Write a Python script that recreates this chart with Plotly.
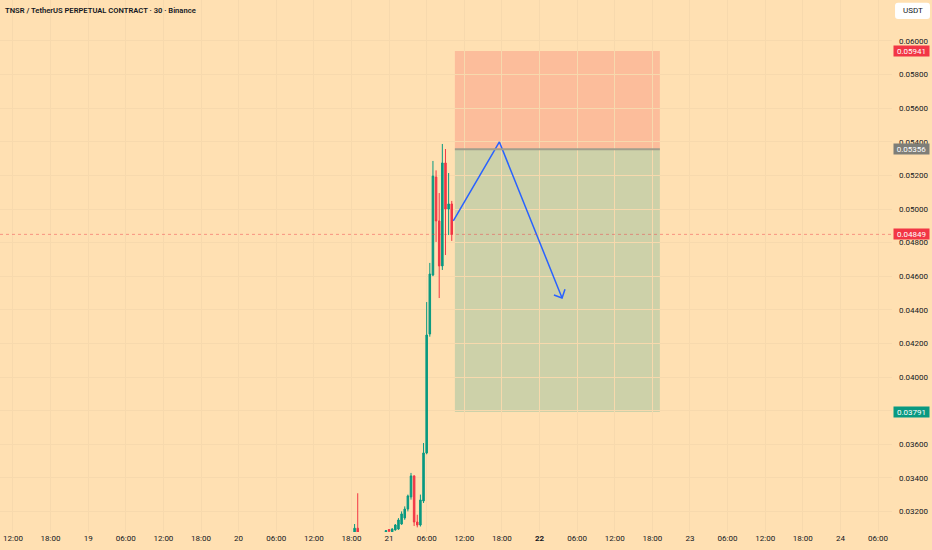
import plotly.graph_objects as go

# ---- candle data (30 min) ----
times = [
    "2024-04-20 18:30", "2024-04-20 19:00", "2024-04-20 23:30",
    "2024-04-21 00:00", "2024-04-21 00:30", "2024-04-21 01:00", "2024-04-21 01:30",
    "2024-04-21 02:00", "2024-04-21 02:30", "2024-04-21 03:00", "2024-04-21 03:30",
    "2024-04-21 04:00", "2024-04-21 04:30", "2024-04-21 05:00", "2024-04-21 05:30",
    "2024-04-21 06:00", "2024-04-21 06:30", "2024-04-21 07:00", "2024-04-21 07:30",
    "2024-04-21 08:00", "2024-04-21 08:30", "2024-04-21 09:00", "2024-04-21 09:30",
    "2024-04-21 10:00",
]
opens = [0.03060, 0.03100, 0.03078, 0.03092, 0.03078, 0.03090, 0.03095, 0.03125,
         0.03161, 0.03214, 0.03286, 0.03411, 0.03137, 0.03119, 0.03262, 0.03548,
         0.04256, 0.04607, 0.05190, 0.04929, 0.04661, 0.05274, 0.05000, 0.05030]
highs = [0.03125, 0.03308, 0.03088, 0.03095, 0.03100, 0.03125, 0.03160, 0.03200,
         0.03230, 0.03300, 0.03429, 0.03415, 0.03180, 0.03300, 0.03607, 0.04446,
         0.04679, 0.05286, 0.05230, 0.05095, 0.05387, 0.05357, 0.05214, 0.05048]
lows = [0.03040, 0.03040, 0.03070, 0.03070, 0.03070, 0.03085, 0.03090, 0.03120,
        0.03150, 0.03200, 0.03270, 0.03113, 0.03105, 0.03110, 0.03250, 0.03540,
        0.04240, 0.04600, 0.04804, 0.04470, 0.04637, 0.04726, 0.04845, 0.04810]
closes = [0.03100, 0.03060, 0.03085, 0.03082, 0.03095, 0.03119, 0.03149, 0.03185,
          0.03214, 0.03292, 0.03411, 0.03137, 0.03119, 0.03268, 0.03548, 0.04250,
          0.04613, 0.05196, 0.04929, 0.04661, 0.05274, 0.05000, 0.05030, 0.04849]

# ---- position tool (short) ----
pos_start = "2024-04-21 10:30"
pos_end = "2024-04-22 19:12"
stop_price = 0.05941
entry_price = 0.05356
target_price = 0.03791
last_price = 0.04849

# ---- hand-drawn path ----
draw_times = ["2024-04-21 10:15", "2024-04-21 17:36", "2024-04-22 03:36"]
draw_prices = [0.04929, 0.05399, 0.04470]
arrow_times = ["2024-04-22 02:18", "2024-04-22 03:36", "2024-04-22 04:04"]
arrow_prices = [0.04488, 0.04470, 0.04522]

# ---- axes ----
x_tick_times = [
    "2024-04-18 12:00", "2024-04-18 18:00", "2024-04-19 00:00", "2024-04-19 06:00",
    "2024-04-19 12:00", "2024-04-19 18:00", "2024-04-20 00:00", "2024-04-20 06:00",
    "2024-04-20 12:00", "2024-04-20 18:00", "2024-04-21 00:00", "2024-04-21 06:00",
    "2024-04-21 12:00", "2024-04-21 18:00", "2024-04-22 00:00", "2024-04-22 06:00",
    "2024-04-22 12:00", "2024-04-22 18:00", "2024-04-23 00:00", "2024-04-23 06:00",
    "2024-04-23 12:00", "2024-04-23 18:00", "2024-04-24 00:00", "2024-04-24 06:00",
]
x_tick_labels = [
    "12:00", "18:00", "19", "06:00", "12:00", "18:00", "20", "06:00", "12:00",
    "18:00", "21", "06:00", "12:00", "18:00", "<b>22</b>", "06:00", "12:00",
    "18:00", "23", "06:00", "12:00", "18:00", "24", "06:00",
]
y_tick_values = [0.032, 0.034, 0.036, 0.038, 0.040, 0.042, 0.044, 0.046,
                 0.048, 0.050, 0.052, 0.054, 0.056, 0.058, 0.060]
y_tick_labels = [f"{v:.5f}" for v in y_tick_values]

BG = "#FFE0B2"
GRID = "#F7D9AD"
UP = "#089981"
DOWN = "#F23645"
FONT = "Roboto"

fig = go.Figure()

fig.add_trace(go.Candlestick(
    x=times, open=opens, high=highs, low=lows, close=closes,
    increasing=dict(line=dict(color=UP, width=1), fillcolor=UP),
    decreasing=dict(line=dict(color=DOWN, width=1), fillcolor=DOWN),
    whiskerwidth=0, showlegend=False, hoverinfo="skip",
))

fig.add_trace(go.Scatter(
    x=draw_times, y=draw_prices, mode="lines",
    line=dict(color="#2962FF", width=1.5), showlegend=False, hoverinfo="skip",
))
fig.add_trace(go.Scatter(
    x=arrow_times, y=arrow_prices, mode="lines",
    line=dict(color="#2962FF", width=1.5), showlegend=False, hoverinfo="skip",
))

shapes = [
    dict(type="rect", xref="x", yref="y", x0=pos_start, x1=pos_end,
         y0=entry_price, y1=stop_price, fillcolor="#FCBD9B",
         line=dict(width=0), layer="below"),
    dict(type="rect", xref="x", yref="y", x0=pos_start, x1=pos_end,
         y0=target_price, y1=entry_price, fillcolor="#CDD1A9",
         line=dict(width=0), layer="below"),
    dict(type="line", xref="x", yref="y", x0=pos_start, x1=pos_end,
         y0=entry_price, y1=entry_price, line=dict(color="#A19F8C", width=2)),
    dict(type="line", xref="paper", yref="y", x0=0, x1=1,
         y0=last_price, y1=last_price,
         line=dict(color=DOWN, width=1, dash="dot"), opacity=0.45),
    # USDT currency badge (rounded white box) on the price scale
    dict(type="path", xref="paper", yref="paper",
         path="M 1.0068 0.9949 L 1.0392 0.9949 Q 1.0426 0.9949 1.0426 0.9893 "
              "L 1.0426 0.9699 Q 1.0426 0.9643 1.0392 0.9643 L 1.0068 0.9643 "
              "Q 1.0034 0.9643 1.0034 0.9699 L 1.0034 0.9893 Q 1.0034 0.9949 1.0068 0.9949 Z",
         fillcolor="#FFFFFF", line=dict(width=0), layer="above"),
]

annotations = [
    dict(text="TNSR / TetherUS PERPETUAL CONTRACT · 30 · Binance",
         xref="paper", yref="paper", x=0, y=1, xanchor="left", yanchor="top",
         xshift=3, yshift=-4, showarrow=False,
         font=dict(family=FONT, size=7.6, color="#131722", weight=600)),
]
for price, col in [(stop_price, DOWN), (entry_price, "#7E7E78"),
                   (last_price, DOWN), (target_price, UP)]:
    annotations.append(dict(
        text=f"{price:.5f}", xref="paper", yref="y", x=1, y=price,
        xanchor="left", yanchor="middle", xshift=1, showarrow=False,
        bgcolor=col, width=33, height=8, borderpad=1,
        font=dict(family=FONT, size=8, color="#FFFFFF")))
annotations.append(dict(
    text="USDT", xref="paper", yref="paper", x=1.023, y=0.9796,
    xanchor="center", yanchor="middle", showarrow=False,
    font=dict(family=FONT, size=8, color="#131722")))

fig.update_layout(
    width=932, height=550,
    margin=dict(l=0, r=40, t=0, b=18),
    paper_bgcolor=BG, plot_bgcolor=BG,
    shapes=shapes, annotations=annotations,
    font=dict(family=FONT, size=8, color="#131722"),
    xaxis=dict(
        type="date", range=["2024-04-18 09:56", "2024-04-24 08:14"],
        tickvals=x_tick_times, ticktext=x_tick_labels,
        showgrid=True, gridcolor=GRID, gridwidth=1, zeroline=False,
        showline=False, ticks="", rangeslider=dict(visible=False),
        tickfont=dict(family=FONT, size=8, color="#131722"),
        fixedrange=True,
    ),
    yaxis=dict(
        side="right", range=[0.030774, 0.06244],
        tickvals=y_tick_values, ticktext=y_tick_labels,
        showgrid=True, gridcolor=GRID, gridwidth=1, zeroline=False,
        showline=False, ticks="", ticklabelstandoff=6,
        tickfont=dict(family=FONT, size=8, color="#131722"),
        fixedrange=True,
    ),
)

fig.write_html("out.html", config={"displayModeBar": False})

# remove the browser's default page margin so the figure fills the window
with open("out.html", encoding="utf-8") as f:
    html = f.read()
html = html.replace("<head>", "<head><style>html,body{margin:0;padding:0;overflow:hidden;}</style>", 1)
with open("out.html", "w", encoding="utf-8") as f:
    f.write(html)
